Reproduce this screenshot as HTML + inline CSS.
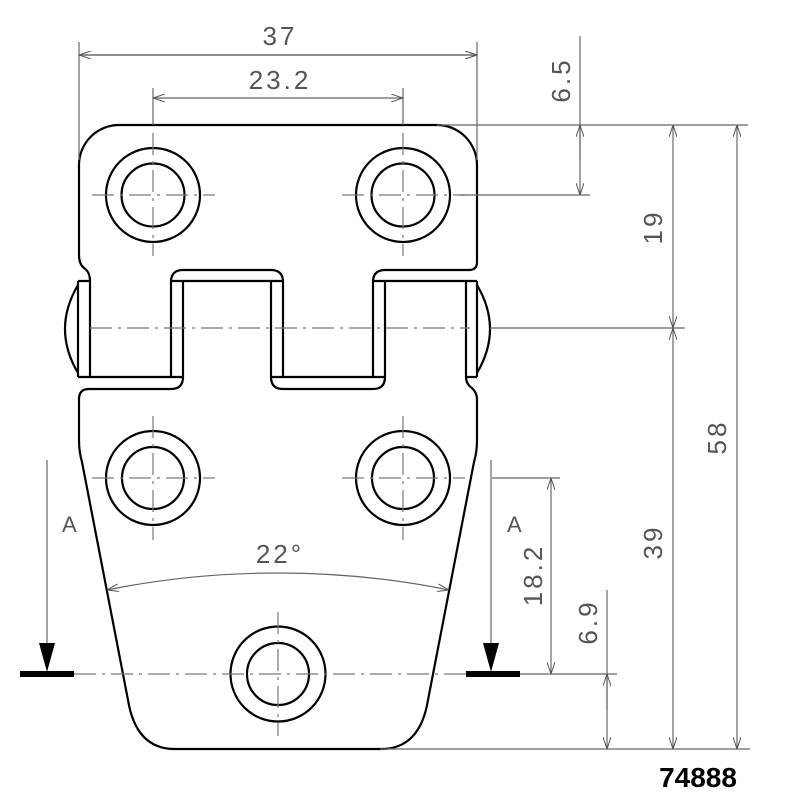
<!DOCTYPE html>
<html><head><style>
html,body{margin:0;padding:0;background:#fff;width:800px;height:800px;overflow:hidden}
svg{display:block}
.o{fill:none;stroke:#000;stroke-width:2.2}
.d{fill:none;stroke:#666;stroke-width:1.2}
.c{fill:none;stroke:#777;stroke-width:1.2;stroke-dasharray:22,6,3,6}
.t{font-family:"Liberation Sans",sans-serif;font-size:26px;fill:#555;font-weight:300;letter-spacing:3px}
</style></head><body>
<svg width="800" height="800" viewBox="0 0 800 800" xmlns="http://www.w3.org/2000/svg">
<defs>
<marker id="a" viewBox="0 0 12 8" refX="12" refY="4" markerWidth="12" markerHeight="8" orient="auto" markerUnits="userSpaceOnUse"><path d="M0,0 L12,4 L0,8" fill="none" stroke="#555" stroke-width="1"/></marker>
</defs>
<!-- top leaf outline -->
<path class="o" d="M90,281 Q90,272 84,268 Q79,264 79,255 L79,165 A40,40 0 0 1 119,125 L437,125 A40,40 0 0 1 477,165 L477,262 Q477,270 469,270 L385,270 Q373,270 373,282 L373,377"/>
<path class="o" d="M171,377 L171,282 Q171,270 183,270 L271,270 Q283,270 283,282 L283,377"/>
<!-- knuckle lines -->
<path class="o" d="M78,281 L90,281 M78,281 L78,377 M90,281 L90,377 M183,281 L183,377 M271,281 L271,377 M385,281 L385,377 M466,281 L466,377 M477,281 L477,377 M171,281 L283,281 M373,281 L477,281 M78,377 L183,377 M271,377 L385,377 M466,377 L477,377"/>
<path class="o" d="M78,285 Q52,329 78,373 M477,285 Q503,329 477,373"/>
<!-- bottom leaf -->
<path class="o" d="M183,377 Q183,389 171,389 L89,389 Q79,389 79,399 L79,440 Q79,452 82,462 L128,700 Q136,749 175,749 L381,749 Q420,749 428,700 L474,462 Q477,452 477,440 L477,399 Q477,393 472,388 Q466,384 466,377"/>
<path class="o" d="M271,377 Q271,389 283,389 L373,389 Q385,389 385,377"/>
<!-- holes -->
<g class="o">
<circle cx="153" cy="195" r="47"/><circle cx="153" cy="195" r="31.5"/>
<circle cx="403" cy="195" r="47"/><circle cx="403" cy="195" r="31.5"/>
<circle cx="153" cy="478" r="47"/><circle cx="153" cy="478" r="31"/>
<circle cx="403" cy="478" r="47"/><circle cx="403" cy="478" r="31"/>
<circle cx="278" cy="674" r="47.5"/><circle cx="278" cy="674" r="31"/>
</g>
<!-- centerlines -->
<g class="c">
<path d="M92,195 L215,195 M153,133 L153,256 M342,195 L465,195 M403,133 L403,256"/>
<path d="M92,478 L215,478 M153,416 L153,540 M342,478 L465,478 M403,416 L403,540"/>
<path d="M278,612 L278,736"/>
<path d="M74,674 L470,674"/>
<path d="M90,328 L470,328"/>
</g>
<!-- section A -->
<path d="M47,460 L47,650 M491,460 L491,650" stroke="#666" stroke-width="1.2"/>
<path d="M39,643 L55,643 L47,672 Z M483,643 L499,643 L491,672 Z" fill="#000"/>
<rect x="20" y="671" width="54" height="6" fill="#000"/>
<rect x="466" y="671" width="54" height="6" fill="#000"/>
<text class="t" x="62" y="532" style="font-size:22px">A</text>
<text class="t" x="507" y="532" style="font-size:22px">A</text>
<!-- dims -->
<g class="d">
<path d="M79,42 L79,160 M477,42 L477,160"/>
<path d="M79,55 L477,55" marker-start="url(#a)" marker-end="url(#a)" style="marker-start:none"/>
<path d="M278,55 L79,55" marker-end="url(#a)"/><path d="M278,55 L477,55" marker-end="url(#a)"/>
<path d="M153,88 L153,125 M403,88 L403,125"/>
<path d="M278,98 L153,98" marker-end="url(#a)"/><path d="M278,98 L403,98" marker-end="url(#a)"/>
<path d="M437,125 L748,125 M460,195 L590,195 M490,328 L685,328 M380,749 L750,749 M520,674 L617,674 M492,478 L560,478"/>
<path d="M580,36 L580,160"/>
<path d="M580,160 L580,125" marker-end="url(#a)"/><path d="M580,160 L580,195" marker-end="url(#a)"/>
<path d="M673,230 L673,125" marker-end="url(#a)"/><path d="M673,230 L673,328" marker-end="url(#a)"/>
<path d="M673,540 L673,328" marker-end="url(#a)"/><path d="M673,540 L673,749" marker-end="url(#a)"/>
<path d="M737,440 L737,125" marker-end="url(#a)"/><path d="M737,440 L737,749" marker-end="url(#a)"/>
<path d="M551,575 L551,478" marker-end="url(#a)"/><path d="M551,575 L551,674" marker-end="url(#a)"/>
<path d="M607,590 L607,710"/>
<path d="M607,710 L607,674" marker-end="url(#a)"/><path d="M607,710 L607,749" marker-end="url(#a)"/>
<path d="M278,573 Q190,573 107,590" marker-end="url(#a)"/><path d="M278,573 Q366,573 449,590" marker-end="url(#a)"/>
</g>
<text class="t" x="280" y="45" text-anchor="middle">37</text>
<text class="t" x="280" y="89" text-anchor="middle">23.2</text>
<text class="t" x="280" y="563" text-anchor="middle">22°</text>
<text class="t" transform="translate(570,80) rotate(-90)" text-anchor="middle">6.5</text>
<text class="t" transform="translate(662,227) rotate(-90)" text-anchor="middle">19</text>
<text class="t" transform="translate(726,437) rotate(-90)" text-anchor="middle">58</text>
<text class="t" transform="translate(662,542) rotate(-90)" text-anchor="middle">39</text>
<text class="t" transform="translate(542,575) rotate(-90)" text-anchor="middle">18.2</text>
<text class="t" transform="translate(597,622) rotate(-90)" text-anchor="middle">6.9</text>
<text x="698" y="787" text-anchor="middle" style="font-family:'Liberation Sans',sans-serif;font-size:28px;font-weight:bold;fill:#000">74888</text>
</svg>
</body></html>
